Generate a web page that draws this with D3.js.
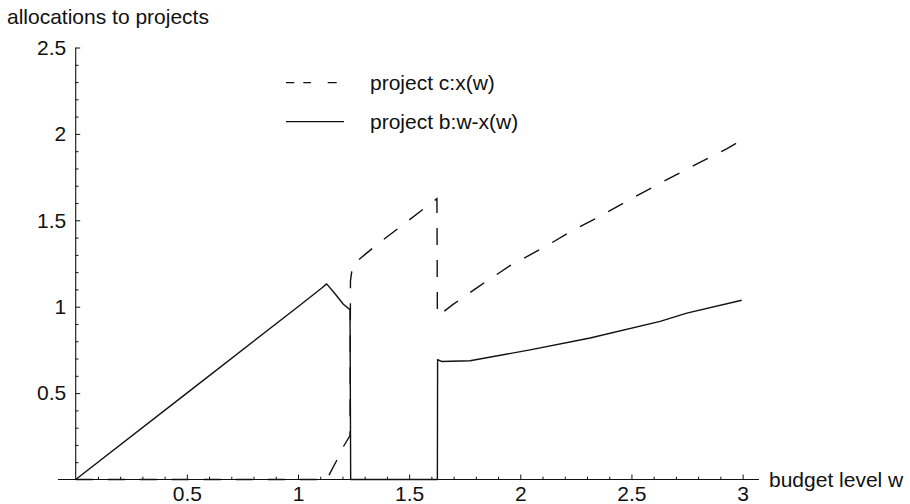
<!DOCTYPE html>
<html>
<head>
<meta charset="utf-8">
<script src="https://cdn.jsdelivr.net/npm/d3@7/dist/d3.min.js"></script>
<style>
  html, body { margin: 0; padding: 0; background: #fff; }
  svg { display: block; }
  text { font-family: "Liberation Sans", Arial, Helvetica, sans-serif; fill: #111; }
</style>
</head>
<body>
<svg id="chart" width="910" height="504"></svg>
<script>
// Budget levels w and the allocation to project b: w - x(w)
const budgetB = [0, 0.5, 1.0, 1.107, 1.129, 1.171, 1.204, 1.234, 1.237, 1.627, 1.628, 1.646, 1.774, 2.044, 2.314, 2.629, 2.749, 2.996];
const allocB  = [0, 0.5, 1.0, 1.108, 1.132, 1.068, 1.014, 0.983, 0, 0, 0.693, 0.683, 0.687, 0.750, 0.819, 0.915, 0.963, 1.037];

// Budget levels w and the allocation to project c: x(w)
const budgetC = [0, 1.129, 1.171, 1.204, 1.234, 1.236, 1.246, 1.306, 1.369, 1.625, 1.627, 1.631, 1.696, 1.819, 1.954, 2.096, 2.236, 2.358, 2.506, 2.646, 2.790, 2.928, 2.996];
const allocC  = [0, 0, 0.103, 0.190, 0.254, 1.150, 1.243, 1.307, 1.373, 1.625, 0.950, 0.948, 1.012, 1.122, 1.238, 1.336, 1.441, 1.523, 1.630, 1.726, 1.823, 1.914, 1.964];

// Axis ticks
const xMajorTicks = [0.5, 1, 1.5, 2, 2.5, 3];
const xTickLabels = ["0.5", "1", "1.5", "2", "2.5", "3"];
const yMajorTicks = [0.5, 1, 1.5, 2, 2.5];
const yTickLabels = ["0.5", "1", "1.5", "2", "2.5"];

// Text
const yAxisTitle = "allocations to projects";
const xAxisTitle = "budget level w";
const legendLabels = ["project c:x(w)", "project b:w-x(w)"];

const svg = d3.select("#chart");
const FONT = 21;

const x = d3.scaleLinear().domain([0, 3]).range([75.7, 742.6]);
const y = d3.scaleLinear().domain([0, 2.5]).range([479.5, 47.5]);

const minorX = d3.range(1, 31).map(d => d / 10).filter(d => Math.abs(d * 2 - Math.round(d * 2)) > 1e-6);
const minorY = d3.range(1, 25).map(d => d / 10).filter(d => Math.abs(d * 2 - Math.round(d * 2)) > 1e-6);

// Axis lines
svg.append("line")
  .attr("x1", 58).attr("x2", 759)
  .attr("y1", y(0)).attr("y2", y(0))
  .attr("stroke", "#111").attr("stroke-width", 1.1);
svg.append("line")
  .attr("x1", x(0)).attr("x2", x(0))
  .attr("y1", y(0)).attr("y2", y(2.5))
  .attr("stroke", "#111").attr("stroke-width", 1.1);

// X axis: major ticks pointing up, labels below
const xAxis = svg.append("g")
  .attr("transform", `translate(0,${y(0)})`)
  .call(d3.axisBottom(x)
    .tickValues(xMajorTicks)
    .tickSizeInner(-5).tickSizeOuter(0)
    .tickPadding(6.5)
    .tickFormat((d, i) => xTickLabels[i]));
xAxis.select(".domain").remove();
xAxis.selectAll("text").attr("font-size", FONT).attr("font-family", null);
xAxis.selectAll("line").attr("stroke", "#111");

const xMinor = svg.append("g")
  .attr("transform", `translate(0,${y(0)})`)
  .call(d3.axisBottom(x).tickValues(minorX).tickSizeInner(-2.8).tickSizeOuter(0).tickFormat(""));
xMinor.select(".domain").remove();
xMinor.selectAll("line").attr("stroke", "#111");

// Y axis: ticks pointing right, labels to the left
const yAxis = svg.append("g")
  .attr("transform", `translate(${x(0)},0)`)
  .call(d3.axisLeft(y)
    .tickValues(yMajorTicks)
    .tickSizeInner(-4.5).tickSizeOuter(0)
    .tickPadding(9.5)
    .tickFormat((d, i) => yTickLabels[i]));
yAxis.select(".domain").remove();
yAxis.selectAll("text").attr("font-size", FONT).attr("font-family", null);
yAxis.selectAll("line").attr("stroke", "#111");

const yMinor = svg.append("g")
  .attr("transform", `translate(${x(0)},0)`)
  .call(d3.axisLeft(y).tickValues(minorY).tickSizeInner(-2.8).tickSizeOuter(0).tickFormat(""));
yMinor.select(".domain").remove();
yMinor.selectAll("line").attr("stroke", "#111");

// Axis titles
svg.append("text").attr("x", 7).attr("y", 23.5).attr("font-size", FONT).text(yAxisTitle);
svg.append("text").attr("x", 769).attr("y", 486.5).attr("font-size", FONT).text(xAxisTitle);

// Curves
const line = d3.line().x(d => x(d[0])).y(d => y(d[1]));
const seriesB = budgetB.map((w, i) => [w, allocB[i]]);
const seriesC = budgetC.map((w, i) => [w, allocC[i]]);

svg.append("path")
  .datum(seriesB)
  .attr("d", line)
  .attr("fill", "none").attr("stroke", "#111").attr("stroke-width", 1.4)
  .attr("stroke-linejoin", "round");

svg.append("path")
  .datum(seriesC)
  .attr("d", line)
  .attr("fill", "none").attr("stroke", "#111").attr("stroke-width", 1.4)
  .attr("stroke-dasharray", "17,15");

// Legend
const legend = svg.append("g");
legend.append("line")
  .attr("x1", 286).attr("x2", 337).attr("y1", 82.7).attr("y2", 82.7)
  .attr("stroke", "#111").attr("stroke-width", 1.2)
  .attr("stroke-dasharray", "8.3,9,7.7,16.7,9");
legend.append("text").attr("x", 370).attr("y", 90).attr("font-size", FONT).text(legendLabels[0]);
legend.append("line")
  .attr("x1", 286).attr("x2", 344).attr("y1", 121.7).attr("y2", 121.7)
  .attr("stroke", "#111").attr("stroke-width", 1.2);
legend.append("text").attr("x", 370).attr("y", 129).attr("font-size", FONT).text(legendLabels[1]);
</script>
</body>
</html>
